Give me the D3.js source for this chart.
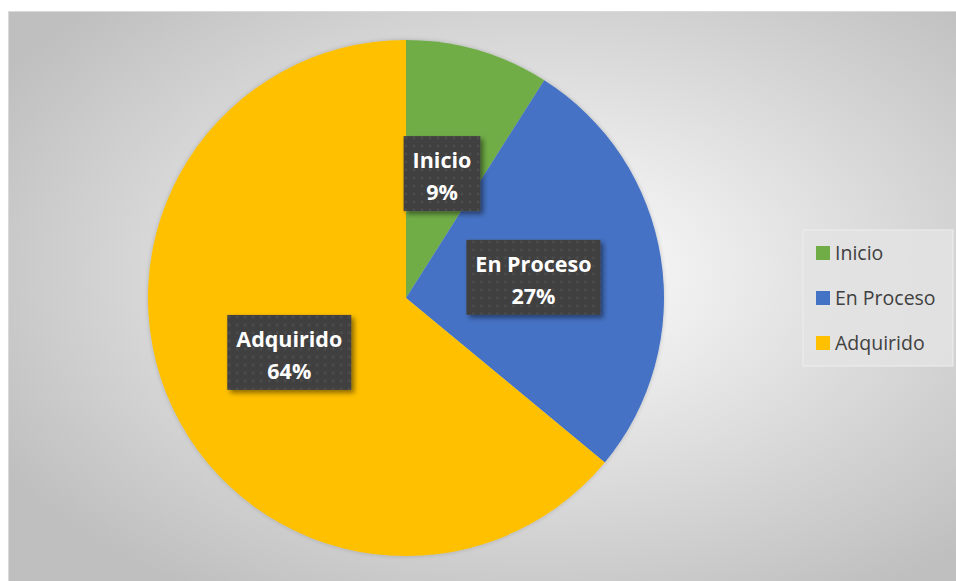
<!DOCTYPE html>
<html lang="es">
<head>
<meta charset="utf-8">
<title>Pie chart</title>
<script src="https://d3js.org/d3.v7.min.js"></script>
<style>
  body { margin: 0; background: #fff; }
  svg { display: block; font-family: "Open Sans", "Noto Sans", sans-serif; }
</style>
</head>
<body>
<script>
// data
var categories = ["Inicio", "En Proceso", "Adquirido"];
var values = [9, 27, 64];
var colors = ["#70ad47", "#4472c4", "#ffc000"];

var w = 956, h = 581;
var cx = 406, cy = 298, radius = 258;

var svg = d3.select("body").append("svg")
  .attr("width", w)
  .attr("height", h);

var defs = svg.append("defs");

// background gradient
var bg = defs.append("radialGradient")
  .attr("id", "bg")
  .attr("cx", "55%").attr("cy", "45%").attr("r", "65%");
bg.append("stop").attr("offset", "0%").attr("stop-color", "#ffffff");
bg.append("stop").attr("offset", "100%").attr("stop-color", "#bfbfbf");

// dotted pattern for the data labels
var pat = defs.append("pattern")
  .attr("id", "dots")
  .attr("width", 8).attr("height", 8)
  .attr("patternUnits", "userSpaceOnUse");
pat.append("rect").attr("width", 8).attr("height", 8).attr("fill", "#404040");
pat.append("circle").attr("cx", 4).attr("cy", 4).attr("r", 1.4).attr("fill", "#4d4d4d");

var sh = defs.append("filter").attr("id", "shadow")
  .attr("x", "-20%").attr("y", "-20%").attr("width", "150%").attr("height", "150%");
sh.append("feDropShadow")
  .attr("dx", 3).attr("dy", 3).attr("stdDeviation", 2.5)
  .attr("flood-color", "#000").attr("flood-opacity", 0.45);

var pieSh = defs.append("filter").attr("id", "pieshadow")
  .attr("x", "-10%").attr("y", "-10%").attr("width", "120%").attr("height", "120%");
pieSh.append("feDropShadow")
  .attr("dx", 0).attr("dy", 0).attr("stdDeviation", 2)
  .attr("flood-color", "#000").attr("flood-opacity", 0.2);

// chart area
svg.append("rect")
  .attr("x", 8.5).attr("y", 11.5)
  .attr("width", w).attr("height", h)
  .attr("fill", "url(#bg)")
  .attr("stroke", "#d9d9d9");

// pie
var pie = d3.pie().sort(null).value(function(d) { return d; });
var arcs = pie(values);

var arc = d3.arc().innerRadius(0).outerRadius(radius);
var labelArc = d3.arc().innerRadius(radius * 0.5).outerRadius(radius * 0.5);

var g = svg.append("g")
  .attr("transform", "translate(" + cx + "," + cy + ")");

g.append("g").attr("filter", "url(#pieshadow)")
  .selectAll("path")
  .data(arcs)
  .enter()
  .append("path")
  .attr("d", arc)
  .attr("fill", function(d, i) { return colors[i]; });

// data labels
var total = d3.sum(values);
var labels = g.selectAll("g.label")
  .data(arcs)
  .enter()
  .append("g")
  .attr("class", "label")
  .attr("transform", function(d) {
    var c = labelArc.centroid(d);
    return "translate(" + c[0] + "," + c[1] + ")";
  });

var boxes = labels.append("rect")
  .attr("fill", "url(#dots)")
  .attr("filter", "url(#shadow)");

var txt = labels.append("text")
  .attr("text-anchor", "middle")
  .attr("fill", "#ffffff")
  .attr("font-weight", "bold")
  .attr("font-size", 21.5);

txt.append("tspan")
  .attr("x", 0).attr("y", -6)
  .text(function(d, i) { return categories[i]; });
txt.append("tspan")
  .attr("x", 0).attr("y", 26)
  .text(function(d) { return Math.round(d.value / total * 100) + "%"; });

labels.each(function() {
  var t = d3.select(this).select("text").node().getBBox();
  var padX = 9;
  d3.select(this).select("rect")
    .attr("x", t.x - padX)
    .attr("y", -38)
    .attr("width", t.width + padX * 2)
    .attr("height", 75);
});

// legend
var legend = svg.append("g")
  .attr("transform", "translate(803,230)");

legend.append("rect")
  .attr("width", 150).attr("height", 136)
  .attr("fill", "#e3e3e3")
  .attr("fill-opacity", 0.85)
  .attr("stroke", "#eeeeee");

var item = legend.selectAll("g.item")
  .data(categories)
  .enter()
  .append("g")
  .attr("class", "item")
  .attr("transform", function(d, i) { return "translate(13," + (16 + i * 45) + ")"; });

item.append("rect")
  .attr("width", 14).attr("height", 14)
  .attr("fill", function(d, i) { return colors[i]; });

item.append("text")
  .attr("x", 19).attr("y", 14)
  .attr("font-size", 19.5)
  .attr("fill", "#404040")
  .text(function(d) { return d; });
</script>
</body>
</html>
